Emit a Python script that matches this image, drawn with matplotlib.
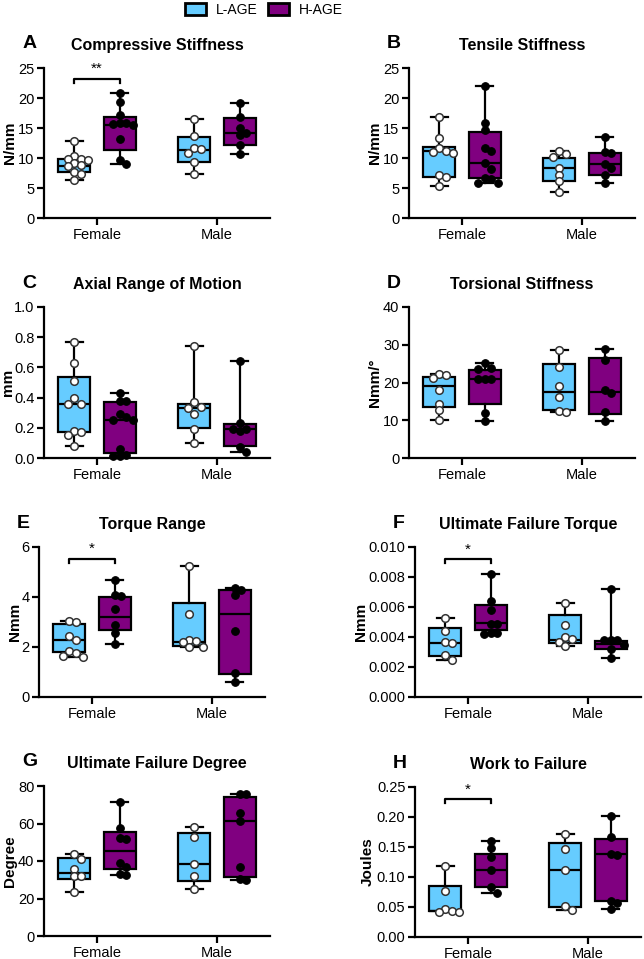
import numpy as np
import matplotlib
matplotlib.use('Agg')
from matplotlib import pyplot as plt
from matplotlib.patches import Patch

plt.rcParams['font.family'] = ['Liberation Sans', 'DejaVu Sans']

groups = ['Female', 'Male']
series = ['L-AGE', 'H-AGE']
colors = ['#66CCFF', '#800080']

# A. Compressive stiffness (N/mm)
comp_f_l = [12.8, 10.3, 9.9, 9.8, 9.7, 9.2, 8.8, 8.7, 7.6, 7.4, 6.4]
comp_f_h = [20.9, 19.3, 17.1, 15.9, 15.8, 15.6, 15.5, 13.2, 9.6, 9.0]
comp_m_l = [16.5, 13.6, 11.7, 11.5, 10.8, 9.3, 7.4]
comp_m_h = [19.1, 16.8, 15.0, 14.1, 13.9, 12.1, 10.6]
comp_box = [(7.6, 8.7, 9.9), (11.3, 15.5, 16.8), (9.3, 11.4, 13.5), (12.2, 14.1, 16.6)]

# B. Tensile stiffness (N/mm)
tens_f_l = [16.8, 13.4, 11.7, 11.2, 11.0, 10.9, 7.1, 6.8, 5.3]
tens_f_h = [22.0, 15.8, 14.6, 11.6, 11.2, 9.1, 8.1, 6.7, 6.5, 5.8, 5.8]
tens_m_l = [11.1, 10.6, 10.1, 8.3, 7.2, 6.1, 4.4]
tens_m_h = [13.5, 11.0, 10.8, 9.0, 8.3, 7.2, 5.8]
tens_box = [(6.9, 11.2, 11.8), (6.7, 9.1, 14.4), (6.1, 8.3, 10.0), (7.2, 9.0, 10.8)]

# C. Axial range of motion (mm)
axial_f_l = [0.77, 0.63, 0.51, 0.40, 0.36, 0.36, 0.18, 0.17, 0.15, 0.08]
axial_f_h = [0.43, 0.38, 0.38, 0.29, 0.27, 0.25, 0.25, 0.06, 0.02, 0.01, 0.01]
axial_m_l = [0.74, 0.37, 0.34, 0.33, 0.29, 0.19, 0.10]
axial_m_h = [0.64, 0.23, 0.19, 0.19, 0.18, 0.07, 0.04]
axial_box = [(0.172, 0.36, 0.534), (0.03, 0.25, 0.37), (0.199, 0.33, 0.36), (0.077, 0.19, 0.227)]

# D. Torsional stiffness (Nmm/deg)
tors_f_l = [22.2, 22.0, 21.2, 18.0, 14.4, 12.6, 10.1]
tors_f_h = [25.2, 23.8, 23.5, 21.0, 20.9, 20.8, 11.9, 9.9]
tors_m_l = [28.5, 24.0, 19.0, 16.1, 12.5, 12.2]
tors_m_h = [29.0, 25.9, 18.1, 17.2, 12.1, 9.9]
tors_box = [(13.4, 19.0, 21.5), (14.3, 20.9, 23.4), (12.6, 17.5, 24.9), (11.7, 17.5, 26.4)]

# E. Torque range (Nmm)
torq_f_l = [3.05, 3.0, 2.43, 2.3, 1.85, 1.75, 1.65, 1.62]
torq_f_h = [4.67, 4.1, 4.05, 3.53, 2.9, 2.56, 2.13]
torq_m_l = [5.24, 3.33, 2.27, 2.25, 2.2, 2.02, 2.0]
torq_m_h = [4.37, 4.27, 4.1, 2.63, 0.96, 0.6]
torq_box = [(1.8, 2.27, 2.93), (2.67, 3.2, 4.0), (2.04, 2.22, 3.77), (0.91, 3.33, 4.27)]

# F. Ultimate failure torque (Nmm)
uft_f_l = [0.0053, 0.0044, 0.0037, 0.0036, 0.0028, 0.0025]
uft_f_h = [0.0082, 0.0064, 0.0058, 0.0049, 0.0049, 0.0043, 0.0043, 0.0042]
uft_m_l = [0.0063, 0.0048, 0.0040, 0.0039, 0.0037, 0.0034]
uft_m_h = [0.0072, 0.0038, 0.0038, 0.0038, 0.0035, 0.0032, 0.0026]
uft_box = [(0.00273, 0.00362, 0.0046), (0.00444, 0.00493, 0.00616), (0.00362, 0.00382, 0.00544), (0.00322, 0.00351, 0.00373)]

# G. Ultimate failure degree
ufd_f_l = [43.8, 41.0, 35.7, 32.2, 32.0, 23.6]
ufd_f_h = [71.6, 57.4, 52.1, 51.8, 38.8, 37.0, 33.0, 32.8]
ufd_m_l = [58.0, 52.6, 38.4, 32.2, 25.1]
ufd_m_h = [75.8, 75.5, 65.4, 61.5, 37.0, 30.2, 30.0]
ufd_box = [(30.2, 33.8, 41.4), (35.6, 45.5, 55.6), (29.3, 38.4, 54.8), (31.3, 61.5, 74.3)]

# H. Work to failure (Joules)
work_f_l = [0.119, 0.077, 0.047, 0.043, 0.042, 0.042]
work_f_h = [0.160, 0.148, 0.134, 0.111, 0.084, 0.074]
work_m_l = [0.171, 0.146, 0.111, 0.052, 0.045]
work_m_h = [0.202, 0.166, 0.138, 0.137, 0.060, 0.057, 0.047]
work_box = [(0.0433, 0.044, 0.0856), (0.083, 0.111, 0.138), (0.05, 0.111, 0.157), (0.06, 0.138, 0.164)]

FIG_W, FIG_H = 644, 959
XLIM = (-0.44, 1.44)
OFF = 0.19
PX_PER_X = 120.0


def swarm_offsets(vals, sy, diam=6.8):
    # simple deterministic beeswarm in pixel space
    placed = []
    xs = np.zeros(len(vals))
    order = np.argsort(vals)[::-1]
    for i in order:
        y = vals[i] * sy
        for k in [0, 1, -1, 2, -2, 3, -3, 4, -4]:
            x = k * diam * 0.98
            if all((x - px) ** 2 + (y - py) ** 2 >= (diam * 0.95) ** 2 for px, py in placed):
                break
        placed.append((x, y))
        xs[i] = x / PX_PER_X
    return xs


def draw_panel(ftick, top, bottom, ylab_x, letter, title, ylabel, data, boxes, yticks, fmt, sig=None):
    left = ftick - 0.44 * PX_PER_X
    width = (XLIM[1] - XLIM[0]) * PX_PER_X
    ax = fig.add_axes([left / FIG_W, (FIG_H - bottom) / FIG_H, width / FIG_W, (bottom - top) / FIG_H])
    ylim = (yticks[0], yticks[-1])
    sy = (bottom - top) / (ylim[1] - ylim[0])
    pos = [0 - OFF, 0 + OFF, 1 - OFF, 1 + OFF]
    stats = []
    for vals, (q1, med, q3) in zip(data, boxes):
        stats.append(dict(med=med, q1=q1, q3=q3, whislo=min(vals), whishi=max(vals), fliers=[]))
    lw = 1.6
    bp = ax.bxp(stats, positions=pos, widths=0.27, patch_artist=True, showfliers=False,
                capwidths=0.14,
                boxprops=dict(edgecolor='black', linewidth=lw),
                whiskerprops=dict(color='black', linewidth=lw),
                capprops=dict(color='black', linewidth=lw),
                medianprops=dict(color='black', linewidth=lw))
    for j, patch in enumerate(bp['boxes']):
        patch.set_facecolor(colors[j % 2])
    for j, vals in enumerate(data):
        vals = np.asarray(vals, dtype=float)
        xs = pos[j] + swarm_offsets(vals, sy)
        if j % 2 == 0:
            ax.scatter(xs, vals, s=30, facecolor='white', edgecolor='#333333', linewidth=1.1, zorder=5, clip_on=False)
        else:
            ax.scatter(xs, vals, s=30, facecolor='black', edgecolor='black', linewidth=0.8, zorder=5, clip_on=False)
    ax.set_xlim(*XLIM)
    ax.set_ylim(*ylim)
    ax.set_yticks(yticks)
    ax.set_yticklabels([fmt.format(t) for t in yticks])
    ax.set_xticks([0, 1])
    ax.set_xticklabels(groups)
    for s in ['top', 'right']:
        ax.spines[s].set_visible(False)
    for s in ['left', 'bottom']:
        ax.spines[s].set_linewidth(1.6)
    ax.tick_params(axis='both', direction='out', length=5, width=1.6, labelsize=10.5, pad=2)
    ax.set_ylabel(ylabel, fontsize=11, fontweight='bold', va='center')
    ax.yaxis.set_label_coords((ylab_x - left) / width, 0.5)
    ax.set_title(title, fontsize=11.5, fontweight='bold', pad=13)
    fig.text((left - 22) / FIG_W, 1 - (top - 24) / FIG_H, letter, fontsize=14, fontweight='bold',
             ha='left', va='center')
    if sig is not None:
        stars, y = sig
        h = (ylim[1] - ylim[0]) * 0.028
        ax.plot([pos[0], pos[0], pos[1], pos[1]], [y - h, y, y, y - h], color='black', lw=1.6, clip_on=False)
        ax.text(0, y + h * 0.6, stars, ha='center', va='bottom', fontsize=11)
    return ax


fig = plt.figure(figsize=(FIG_W / 100, FIG_H / 100), dpi=100)

draw_panel(97, 68, 218, 10, 'A', 'Compressive Stiffness', 'N/mm',
           [comp_f_l, comp_f_h, comp_m_l, comp_m_h], comp_box, [0, 5, 10, 15, 20, 25], '{:g}', ('**', 23.2))
draw_panel(462, 68, 218, 375, 'B', 'Tensile Stiffness', 'N/mm',
           [tens_f_l, tens_f_h, tens_m_l, tens_m_h], tens_box, [0, 5, 10, 15, 20, 25], '{:g}')
draw_panel(97, 307, 458, 8, 'C', 'Axial Range of Motion', 'mm',
           [axial_f_l, axial_f_h, axial_m_l, axial_m_h], axial_box, [0, 0.2, 0.4, 0.6, 0.8, 1.0], '{:.1f}')
draw_panel(462, 307, 458, 375, 'D', 'Torsional Stiffness', 'Nmm/°',
           [tors_f_l, tors_f_h, tors_m_l, tors_m_h], tors_box, [0, 10, 20, 30, 40], '{:g}')
draw_panel(92, 547, 697, 15, 'E', 'Torque Range', 'Nmm',
           [torq_f_l, torq_f_h, torq_m_l, torq_m_h], torq_box, [0, 2, 4, 6], '{:g}', ('*', 5.53))
draw_panel(468, 547, 697, 361, 'F', 'Ultimate Failure Torque', 'Nmm',
           [uft_f_l, uft_f_h, uft_m_l, uft_m_h], uft_box, [0, 0.002, 0.004, 0.006, 0.008, 0.010], '{:.3f}', ('*', 0.0092))
draw_panel(97, 786, 936, 10, 'G', 'Ultimate Failure Degree', 'Degree',
           [ufd_f_l, ufd_f_h, ufd_m_l, ufd_m_h], ufd_box, [0, 20, 40, 60, 80], '{:g}')
draw_panel(468, 787, 937, 368, 'H', 'Work to Failure', 'Joules',
           [work_f_l, work_f_h, work_m_l, work_m_h], work_box, [0, 0.05, 0.10, 0.15, 0.20, 0.25], '{:.2f}', ('*', 0.23))

handles = [Patch(facecolor=c, edgecolor='black', linewidth=2, label=s) for c, s in zip(colors, series)]
fig.legend(handles=handles, loc='upper center', bbox_to_anchor=(0.41, 1.01), ncol=2, frameon=False,
           fontsize=10, handlelength=1.5, handleheight=0.9, columnspacing=0.8, handletextpad=0.7)

fig.savefig('out.png', dpi=100)
